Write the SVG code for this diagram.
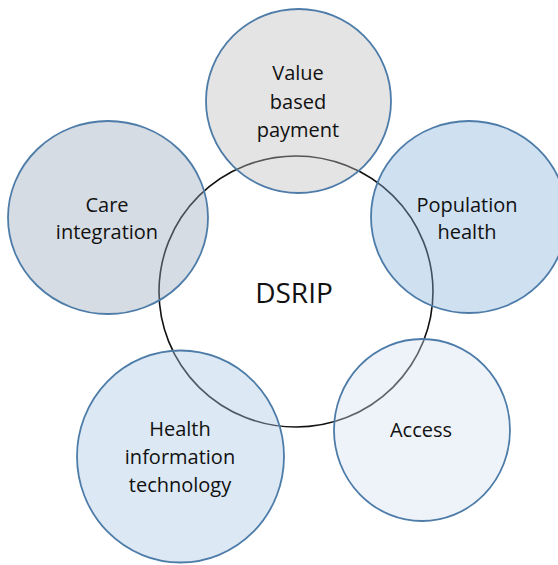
<svg xmlns="http://www.w3.org/2000/svg" width="558" height="565" viewBox="0 0 558 565">
<style>
.bg{fill:#ffffff}
.hub{fill:#ffffff;stroke:#111111;stroke-width:1.6}
.sat{stroke:#4d7ca9;stroke-width:1.8;fill-opacity:0.4}
text{font-family:"Open Sans","Liberation Sans",sans-serif;font-size:20px;fill:#111111;text-anchor:middle}
.big{font-size:28px}
</style>
<rect class="bg" x="0" y="0" width="558" height="565"/>
<g id="dsrip">
<ellipse class="hub" cx="296" cy="291.5" rx="137" ry="135.5"/>
<text class="big" x="294" y="303">DSRIP</text>
</g>
<g id="value-based-payment">
<ellipse class="sat" style="fill:#bbbbbb" cx="298.5" cy="101" rx="92.5" ry="92"/>
<text x="298" y="80">Value</text>
<text x="298" y="109">based</text>
<text x="298" y="137">payment</text>
</g>
<g id="care-integration">
<ellipse class="sat" style="fill:#98a7bb" cx="108" cy="217.5" rx="100" ry="96.5"/>
<text x="107" y="212">Care</text>
<text x="107" y="239">integration</text>
</g>
<g id="population-health">
<ellipse class="sat" style="fill:#87b1dc" cx="469" cy="217" rx="98" ry="96"/>
<text x="467" y="212">Population</text>
<text x="467" y="239">health</text>
</g>
<g id="access">
<ellipse class="sat" style="fill:#d4e1f2" cx="422" cy="430" rx="88" ry="91"/>
<text x="421" y="437">Access</text>
</g>
<g id="health-information-technology">
<ellipse class="sat" style="fill:#a7c5e1" cx="180.5" cy="456.5" rx="103.5" ry="106"/>
<text x="180" y="436">Health</text>
<text x="180" y="464">information</text>
<text x="180" y="492">technology</text>
</g>
<g id="connectors"></g>
</svg>
